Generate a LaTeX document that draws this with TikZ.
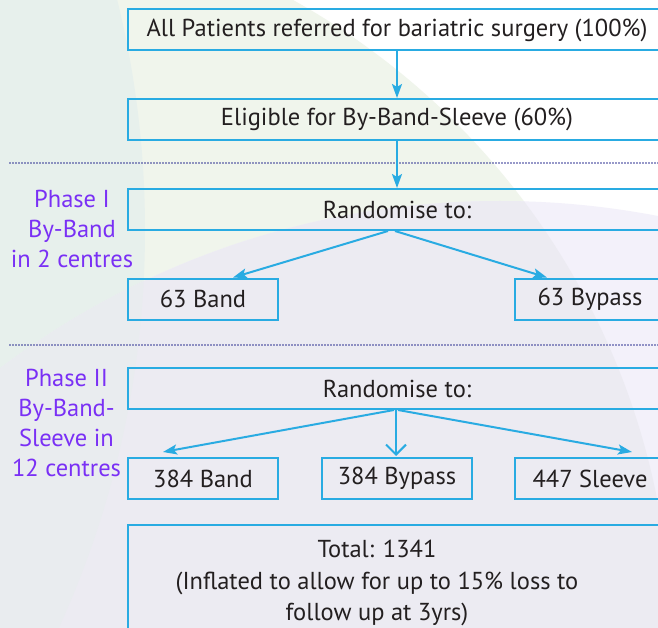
\documentclass[tikz,border=0pt]{standalone}
\usepackage{fontspec}
\setmainfont{PT Sans}
\usetikzlibrary{arrows.meta}

\definecolor{boxblue}{HTML}{29ABE2}
\definecolor{inktext}{HTML}{231F20}
\definecolor{phasepurple}{HTML}{7A30F5}
\definecolor{dotblue}{HTML}{2E3192}
\definecolor{bgteal}{HTML}{E7F0EC}
\definecolor{bggreen}{HTML}{F0F5EC}
\definecolor{bglilac}{HTML}{F3F1FA}
\definecolor{bggrey}{HTML}{ECEBF2}
\definecolor{bgmix}{HTML}{E9ECEF}

\begin{document}
\begin{tikzpicture}[x=1pt,y=-1pt]

  \tikzset{box/.style = {draw=boxblue, line width=2pt, minimum height=41pt, inner sep=0pt, text=inktext, font=\fontsize{24.5pt}{31pt}\selectfont}}
  \tikzset{wide/.style = {box, minimum width=538pt}}
  \tikzset{small/.style = {box, minimum width=150pt}}
  \tikzset{phase/.style = {text=phasepurple, align=center, inner sep=0pt, font=\fontsize{24.5pt}{30pt}\selectfont}}
  \tikzset{edge/.style = {-{Stealth[length=14pt,width=10pt,inset=3pt]}, draw=boxblue, line width=2pt}}
  \tikzset{edgeopen/.style = {-{Straight Barb[length=10pt,width=20pt]}, draw=boxblue, line width=2pt}}
  \tikzset{divider/.style = {draw=dotblue, line width=1.8pt, line cap=round, dash pattern=on 0pt off 3pt}}
  \useasboundingbox (0,0) rectangle (658,628);
  \clip (0,0) rectangle (658,628);
  % background
  \fill[white] (0,0) rectangle (658,628);
  \fill[bggreen] (-63,642) circle[radius=734pt];
  \fill[bgteal] (-814,230) circle[radius=959pt];
  \fill[bglilac] (500,1031) circle[radius=830pt];
  \begin{scope}
    \clip (-63,642) circle[radius=734pt];
    \fill[bggrey] (500,1031) circle[radius=830pt];
  \end{scope}
  \begin{scope}
    \clip (-814,230) circle[radius=959pt];
    \fill[bgmix] (500,1031) circle[radius=830pt];
  \end{scope}
  % dividers
  \draw[divider] (10,163) -- (658,163);
  \draw[divider] (10,345) -- (658,345);
  % boxes
  \node[wide] (referred) at (397,30) {All Patients referred for bariatric surgery (100\%)};
  \node[wide] (eligible) at (397,119.5) {Eligible for By-Band-Sleeve (60\%)};
  \node[wide] (rand1) at (397,209.5) {Randomise to:};
  \node[small] (band1) at (203,299) {63 Band};
  \node[small] (bypass1) at (590,299) {63 Bypass};
  \node[wide] (rand2) at (397,388.5) {Randomise to:};
  \node[small] (band2) at (203,478.5) {384 Band};
  \node[small] (bypass2) at (397,478.5) {384 Bypass};
  \node[small] (sleeve2) at (590,478.5) {447 Sleeve};
  \draw[draw=boxblue, line width=2pt] (128,525) rectangle (670,660);
  \node[align=center, text=inktext, inner sep=0pt, font=\fontsize{24.5pt}{31.5pt}\selectfont] (total) at (377,583)
    {Total: 1341\\(Inflated to allow for up to 15\% loss to\\follow up at 3yrs)};
  % phase labels
  \node[phase] (phase1) at (72,229) {Phase I\\By-Band\\in 2 centres};
  \node[phase] (phase2) at (66.5,423) {Phase II\\By-Band-\\Sleeve in\\12 centres};
  % edges
  \draw[edge] (referred) -- (eligible);
  \draw[edge] (eligible) -- (rand1);
  \draw[edge] ([xshift=-9pt]rand1.south) -- ([xshift=30pt]band1.north);
  \draw[edge] ([xshift=-2pt]rand1.south) -- ([xshift=-43pt]bypass1.north);
  \draw[edge] ([xshift=-3pt]rand2.south) -- ([xshift=-40pt,yshift=5pt]band2.north);
  \draw[edgeopen] ([xshift=-1pt]rand2.south) -- ([xshift=-1pt,yshift=1pt]bypass2.north);
  \draw[edge] ([xshift=1pt]rand2.south) -- ([xshift=42pt,yshift=5pt]sleeve2.north);
\end{tikzpicture}
\end{document}
